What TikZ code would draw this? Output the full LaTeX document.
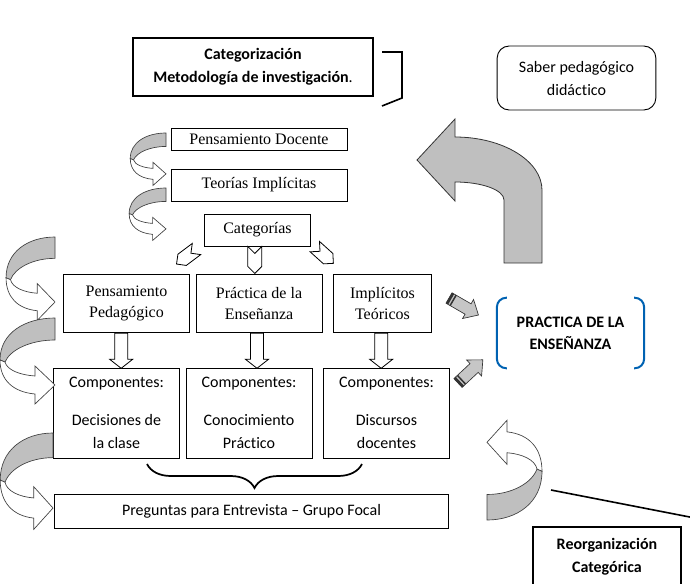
\documentclass[tikz,border=0pt]{standalone}
\usepackage{fontspec}
\setmainfont{Liberation Serif}
\newfontfamily\carlito[Ligatures=NoCommon]{Carlito}
\usetikzlibrary{decorations.pathreplacing}

\tikzset{
  box/.style={draw, line width=0.7pt, align=center, inner sep=0pt,
    font=\fontsize{12}{15.75}\selectfont},
  cbox/.style={box, font=\carlito\fontsize{12}{17.25}\selectfont},
  bbox/.style={box, line width=1.4pt, font=\carlito\bfseries\fontsize{12}{17.5}\selectfont},
  bluebracket/.style={draw=blue!45!cyan!70!black, line width=1.5pt, rounded corners=7pt},
  pics/ribbon/.style={code={
    \draw[fill=gray!50, draw=black!75, line width=0.5pt] (0,0) .. controls (-30,0) and (-55,15) .. (-55,42)
      -- (-50,44) .. controls (-45,32) and (-25,22) .. (0,22) -- cycle;
    \draw[fill=white, draw=black!75, line width=0.5pt] (-55,42) .. controls (-55,62) and (-42,74) .. (-20,76)
      -- (-20,86) -- (0,67) -- (-20,48) -- (-20,58) .. controls (-35,57) and (-48,52) .. (-50,44) -- cycle;
  }},
  pics/blockarr/.style args={#1/#2/#3/#4}{code={
    \draw[pic actions] (0,-#2) -- ({#1-#4},-#2) -- ({#1-#4},-#3) -- (#1,0) -- ({#1-#4},#3) -- ({#1-#4},#2) -- (0,#2) -- cycle;
  }},
  pics/chev/.style args={#1/#2/#3}{code={
    \draw[pic actions] (0,-#2) -- ({#1-#3},-#2) -- (#1,0) -- ({#1-#3},#2) -- (0,#2) -- (#3,0) -- cycle;
  }},
  pics/grayarr/.style={code={
    \draw[fill=gray!45, draw=black!80, line width=0.5pt] (0,-6) -- (22,-6) -- (22,-11) -- (34,0) -- (22,11) -- (22,6) -- (0,6) -- cycle;
    \fill[black!80] (0,-6) rectangle (2.5,6);
    \fill[black!80] (4,-6) rectangle (5.5,6);
  }},
}

\begin{document}
\begin{tikzpicture}[x=0.75pt, y=-0.75pt]
\useasboundingbox (0,0) rectangle (690,583);
\clip (0,0) rectangle (690,583);

\node[bbox, minimum width=180pt, minimum height=43.5pt] (cat) at (253,67) {Categorización\\ Metodología de investigación{\mdseries.}};
\draw[line width=1.2pt] (382,52) -- (402,52) -- (402,98) -- (382,106);
\node[cbox, rounded corners=9pt, minimum width=119pt, minimum height=48pt] (saber) at (576.5,78) {Saber pedagógico\\ didáctico};

\draw[fill=gray!50, draw=black!80, line width=0.6pt] (417,160) -- (455,119) -- (455,137)
  .. controls (503,137) and (542,161) .. (542,190) -- (542,263) -- (504,263) -- (504,200)
  .. controls (504,190) and (482,182) .. (455,182) -- (455,201) -- cycle;

\node[box, minimum width=132pt, minimum height=17pt] (pd) at (259,139.5) {Pensamiento Docente};
\node[box, minimum width=132pt, minimum height=24pt] (ti) at (259,185) {Teorías Implícitas};
\node[box, minimum width=79pt, minimum height=24pt] (cats) at (257.5,230) {Categorías};

\node[box, minimum width=94pt, minimum height=44pt] (pp) at (126.5,303.5) {Pensamiento\\ Pedagógico};
\node[box, minimum width=94.5pt, minimum height=44pt] (pe) at (259,303.5) {Práctica de la\\ Enseñanza};
\node[box, minimum width=74pt, minimum height=44pt] (it) at (382.5,303.5) {Implícitos\\ Teóricos};

\node[cbox, minimum width=94pt, minimum height=67.5pt] (c1) at (116.5,413) {Componentes:\\[11pt] Decisiones de\\ la clase};
\node[cbox, minimum width=94.5pt, minimum height=67.5pt] (c2) at (249,413) {Componentes:\\[11pt] Conocimiento\\ Práctico};
\node[cbox, minimum width=94pt, minimum height=67.5pt] (c3) at (386.5,413) {Componentes:\\[11pt] Discursos\\ docentes};

\node[cbox, minimum width=296pt, minimum height=26pt] (pg) at (251.5,511.5) {Preguntas para Entrevista – Grupo Focal};

\node[font=\carlito\bfseries\fontsize{12}{16.5}\selectfont, align=center, inner sep=0pt,
  minimum width=110pt, minimum height=52.5pt] (pr) at (570.5,333) {PRACTICA DE LA\\ ENSEÑANZA};
\draw[bluebracket] ([xshift=7.5pt]pr.north west) -- (pr.north west) -- (pr.south west) -- ([xshift=7.5pt]pr.south west);
\draw[bluebracket] ([xshift=-7.5pt]pr.north east) -- (pr.north east) -- (pr.south east) -- ([xshift=-7.5pt]pr.south east);

\node[bbox, minimum width=111pt, minimum height=44pt] (reorg) at (607,556.5) {Reorganización\\ Categórica};
\coordinate (lineA) at (551,490);
\coordinate (lineB) at (700,519);
\draw[line width=1.2pt] (lineA) -- (lineB);

\draw[decorate, decoration={brace, amplitude=18pt, mirror}, line width=1.3pt] (147,464) -- (362,464);

\pic[draw, fill=white, line width=0.6pt, rotate=-90] at ([xshift=-4pt]pp.south) {blockarr=35/6.5/11.5/9};
\pic[draw, fill=white, line width=0.6pt, rotate=-90] at ([xshift=-1.5pt]pe.south) {blockarr=35/6.5/11.5/9};
\pic[draw, fill=white, line width=0.6pt, rotate=-90] at ([xshift=-1pt]it.south) {blockarr=35/6.5/11.5/9};

\pic[draw, fill=white, line width=0.6pt, rotate=-90] at ([xshift=-2pt]cats.south) {chev=27/7/7};
\pic[draw, fill=white, line width=0.6pt, rotate=-143] at (196.5,249) {chev=25/7/7};
\pic[draw, fill=white, line width=0.6pt, rotate=-42] at (314.8,246.6) {chev=25/7/7};

\pic[rotate=-30] at (449,298) {grayarr};
\pic[rotate=43] at (458,383) {grayarr};

\pic[xscale=0.65, yscale=0.61] at (166,133) {ribbon};
\pic[xscale=0.67, yscale=0.61] at (166,188) {ribbon};
\pic[xscale=0.89, yscale=0.97] at (55,237) {ribbon};
\pic at (55,318) {ribbon};
\pic[xscale=0.96, yscale=1.12] at (53,433) {ribbon};
\pic[rotate=180, yscale=1.16] at (487,520) {ribbon};
\end{tikzpicture}
\end{document}
